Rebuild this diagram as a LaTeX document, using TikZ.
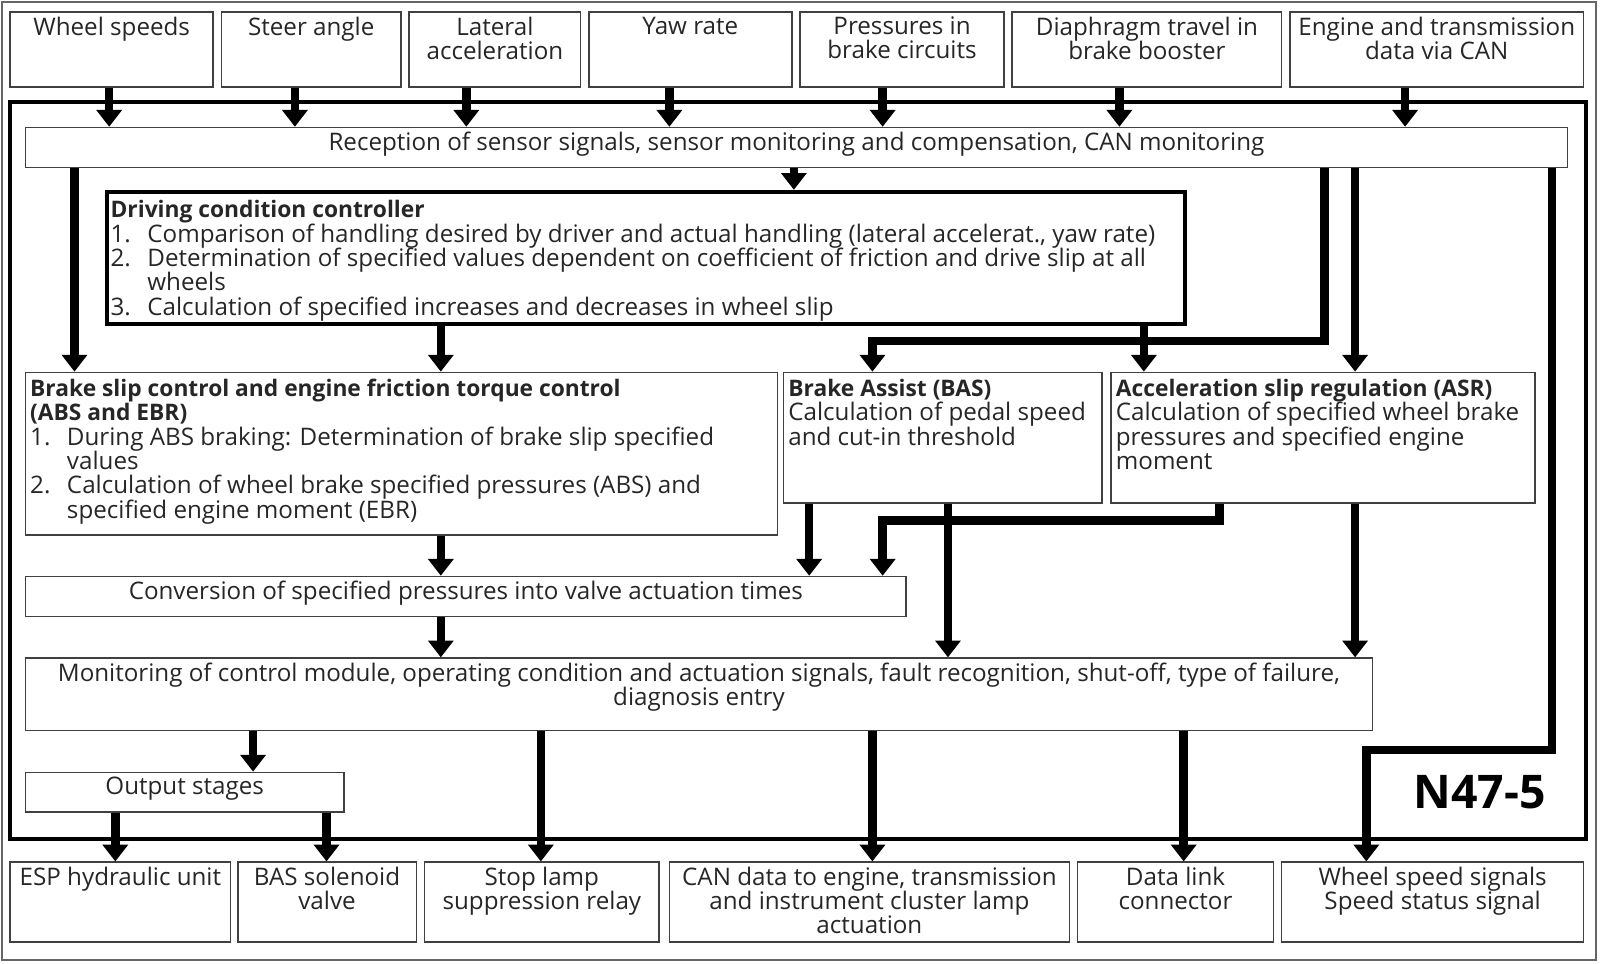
\documentclass[tikz,border=0pt]{standalone}
\usepackage{fontspec}
\setmainfont{Open Sans}
\usetikzlibrary{arrows.meta,fit}

\newcommand{\boxfont}{\fontsize{17.2}{17.28}\selectfont\lineskiplimit=-10pt\relax}
\newcommand{\itm}[1]{\makebox[9.2mm][l]{#1}}
\newcommand{\ttl}[1]{{\fontsize{16.2}{17.28}\selectfont\bfseries #1}}

\tikzset{
  box/.style={draw=black!75, line width=0.4mm, inner sep=0pt},
  txt/.style={anchor=north, align=center, inner xsep=1.3mm, inner ysep=1.3mm,
    font=\boxfont, text=black!85},
  ltxt/.style={txt, anchor=north west, align=left, inner ysep=1.8mm},
  arr/.style={line width=2.1mm, -{Triangle[length=4.2mm,width=6.2mm]}},
}

\begin{document}
\begin{tikzpicture}[x=0.2551mm,y=-0.2551mm]
	\useasboundingbox (0,0) rectangle (1568,944);
	\node[box, draw=black!60, fit={(2,2) (1564,941)}] (page) {};
	\node[box, draw=black, line width=0.9mm, fit={(10,100) (1554,822)}] (frame) {};
	\node[font=\bfseries\fontsize{33}{33}\selectfont] (n47) at (1450,776) {N47-5};

	\node[box, fit={(25,125) (1536,164)}] (rec) {};
	\node[txt] (rec-t) at (rec.north) {Reception of sensor signals, sensor monitoring and compensation, CAN monitoring};

	\node[box, draw=black, line width=1mm, fit={(105,188) (1161,318)}] (dcc) {};
	\node[ltxt, yshift=-0.8mm] (dcc-t) at (dcc.north west) {\ttl{Driving condition controller}\\
		\itm{1.}Comparison of handling desired by driver and actual handling (lateral accelerat., yaw rate)\\
		\itm{2.}Determination of specified values dependent on coefficient of friction and drive slip at all\\
		\itm{}wheels\\
		\itm{3.}Calculation of specified increases and decreases in wheel slip};

	\node[box, fit={(25,365) (762,524)}] (bsc) {};
	\node[ltxt] (bsc-t) at (bsc.north west) {\ttl{Brake slip control and engine friction torque control}\\
		\ttl{(ABS and EBR)}\\
		\itm{1.}During ABS braking: Determination of brake slip specified\\
		\itm{}values\\
		\itm{2.}Calculation of wheel brake specified pressures (ABS) and\\
		\itm{}specified engine moment (EBR)};

	\node[box, fit={(768,365) (1080,493)}] (bas) {};
	\node[ltxt] (bas-t) at (bas.north west) {\ttl{Brake Assist (BAS)}\\
		Calculation of pedal speed\\ and cut-in threshold};

	\node[box, fit={(1089,365) (1504,493)}] (asr) {};
	\node[ltxt] (asr-t) at (asr.north west) {\ttl{Acceleration slip regulation (ASR)}\\
		Calculation of specified wheel brake\\ pressures and specified engine\\ moment};

	\node[box, fit={(25,565) (888,604)}] (conv) {};
	\node[txt] (conv-t) at (conv.north) {Conversion of specified pressures into valve actuation times};

	\node[box, fit={(25,645) (1345,716)}] (mon) {};
	\node[txt] (mon-t) at (mon.north) {Monitoring of control module, operating condition and actuation signals, fault recognition, shut-off, type of failure,\\ diagnosis entry};

	\node[box, fit={(25,757) (337,796)}] (out) {};
	\node[txt] (out-t) at (out.north) {Output stages};

	\foreach \n/\xa/\xb/\xc/\t in {ws/10/209/107/{Wheel speeds}, sa/217/393/289/{Steer angle},
		la/401/569/457/{Lateral\\ acceleration}, yr/577/776/656/{Yaw rate},
		pb/784/984/865/{Pressures in\\ brake circuits}, dt/992/1256/1097/{Diaphragm travel in\\ brake booster},
		et/1264/1552/1377/{Engine and transmission\\ data via CAN}}
	{
		\node[box, fit={(\xa,12) (\xb,85)}] (\n) {};
		\node[txt] (\n-t) at (\n.north) {\t};
		\draw[arr] (\xc,0 |- \n.south) -- (\xc,0 |- rec.north);
	}

	\foreach \n/\xa/\xb/\t in {esp/10/226/{ESP hydraulic unit}, sol/233/408/{BAS solenoid\\ valve},
		slr/416/646/{Stop lamp\\ suppression relay}, can/656/1048/{CAN data to engine, transmission\\ and instrument cluster lamp\\ actuation},
		dlc/1056/1248/{Data link\\ connector}, wss/1256/1552/{Wheel speed signals\\ Speed status signal}}
	{
		\node[box, fit={(\xa,845) (\xb,923)}] (\n) {};
		\node[txt] (\n-t) at (\n.north) {\t};
	}

	\draw[arr] (778,0 |- rec.south) -- (778,0 |- dcc.north);
	\draw[arr] (73,0 |- rec.south) -- (73,0 |- bsc.north);
	\draw[arr] (1298,0 |- rec.south) -- (1298,334) -- (855,334) -- (855,0 |- bas.north);
	\draw[arr] (1328,0 |- rec.south) -- (1328,0 |- asr.north);
	\draw[arr] (1521,0 |- rec.south) -- (1521,735) -- (1339,735) -- (1339,0 |- wss.north);

	\draw[arr] (432,0 |- dcc.south) -- (432,0 |- bsc.north);
	\draw[arr] (1121,0 |- dcc.south) -- (1121,0 |- asr.north);

	\draw[arr] (432,0 |- bsc.south) -- (432,0 |- conv.north);
	\draw[arr] (793,0 |- bas.south) -- (793,0 |- conv.north);
	\draw[arr] (1195,0 |- asr.south) -- (1195,510) -- (865,510) -- (865,0 |- conv.north);
	\draw[arr] (929,0 |- bas.south) -- (929,0 |- mon.north);
	\draw[arr] (1328,0 |- asr.south) -- (1328,0 |- mon.north);
	\draw[arr] (432,0 |- conv.south) -- (432,0 |- mon.north);

	\draw[arr] (248,0 |- mon.south) -- (248,0 |- out.north);
	\draw[arr] (530,0 |- mon.south) -- (530,0 |- slr.north);
	\draw[arr] (855,0 |- mon.south) -- (855,0 |- can.north);
	\draw[arr] (1160,0 |- mon.south) -- (1160,0 |- dlc.north);
	\draw[arr] (113,0 |- out.south) -- (113,0 |- esp.north);
	\draw[arr] (320,0 |- out.south) -- (320,0 |- sol.north);
\end{tikzpicture}
\end{document}
